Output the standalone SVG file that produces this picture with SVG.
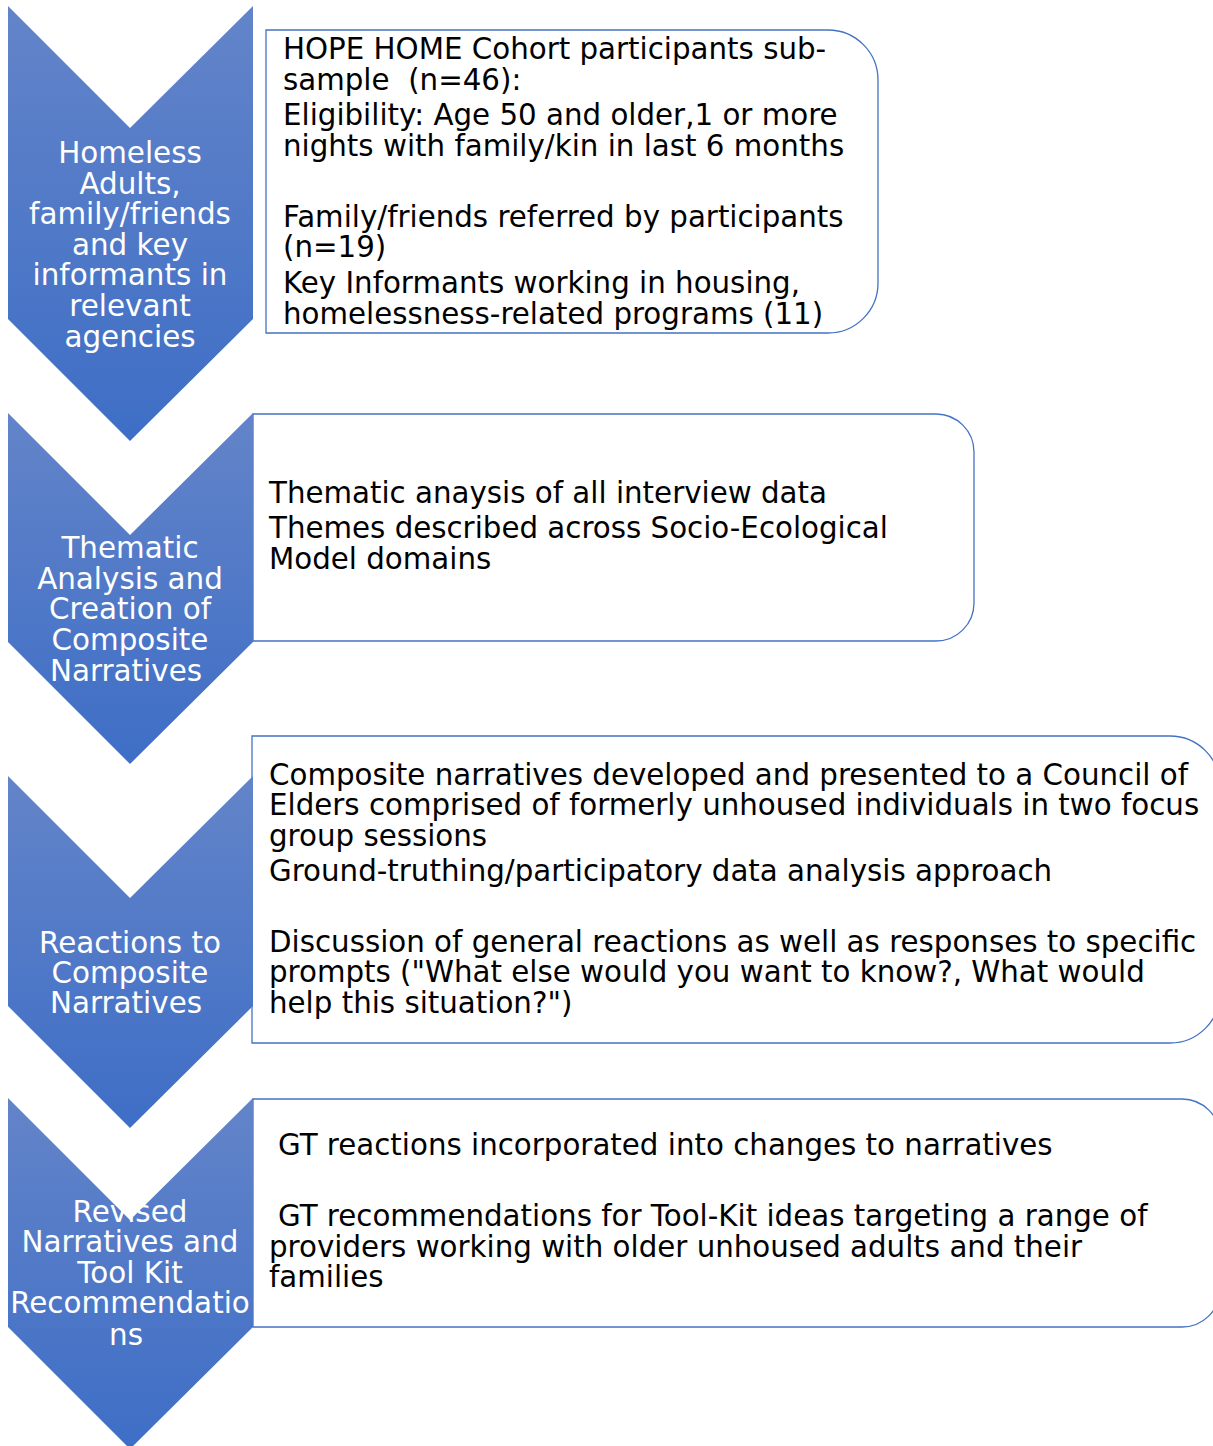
<svg xmlns="http://www.w3.org/2000/svg" width="1213" height="1446" viewBox="0 0 1213 1446">
<defs>
<linearGradient id="chev" x1="0" y1="0" x2="0" y2="1">
<stop offset="0" stop-color="#6384C9"/>
<stop offset="1" stop-color="#3E6EC6"/>
</linearGradient>
<style>
.box{fill:#FFFFFF;stroke:#4472C4;stroke-width:1.3}
.chev{fill:url(#chev)}
.ct{font-family:"DejaVu Sans","Liberation Sans",sans-serif;font-size:29.4px;fill:#FFFFFF;text-anchor:middle}
.bt{font-family:"DejaVu Sans","Liberation Sans",sans-serif;font-size:29.3px;fill:#000000}
</style>
</defs>
<rect width="1213" height="1446" fill="#FFFFFF"/>
<g id="connectors"></g>
<g id="box1">
<path class="box" d="M266,30 H828 A50,50 0 0 1 878,80 V283 A50,50 0 0 1 828,333 H266 Z"/>
<text class="bt"><tspan x="283" y="59">HOPE HOME Cohort participants sub-</tspan><tspan x="283" y="90" xml:space="preserve">sample  (n=46):</tspan><tspan x="283" y="125">Eligibility: Age 50 and older,1 or more</tspan><tspan x="283" y="156">nights with family/kin in last 6 months</tspan><tspan x="283" y="227">Family/friends referred by participants</tspan><tspan x="283" y="257">(n=19)</tspan><tspan x="283" y="293">Key Informants working in housing,</tspan><tspan x="283" y="324">homelessness-related programs (11)</tspan></text>
</g>
<g id="box2">
<path class="box" d="M253,414 H936 A38,38 0 0 1 974,452 V603 A38,38 0 0 1 936,641 H253 Z"/>
<text class="bt"><tspan x="269" y="503">Thematic anaysis of all interview data</tspan><tspan x="269" y="538">Themes described across Socio-Ecological</tspan><tspan x="269" y="569">Model domains</tspan></text>
</g>
<g id="box3">
<path class="box" d="M252,736 H1170 A50,50 0 0 1 1220,786 V993 A50,50 0 0 1 1170,1043 H252 Z"/>
<text class="bt"><tspan x="269" y="785">Composite narratives developed and presented to a Council of</tspan><tspan x="269" y="815">Elders comprised of formerly unhoused individuals in two focus</tspan><tspan x="269" y="846">group sessions</tspan><tspan x="269" y="881">Ground-truthing/participatory data analysis approach</tspan><tspan x="269" y="952">Discussion of general reactions as well as responses to specific</tspan><tspan x="269" y="982">prompts ("What else would you want to know?, What would</tspan><tspan x="269" y="1013">help this situation?")</tspan></text>
</g>
<g id="box4">
<path class="box" d="M253,1099 H1182 A38,38 0 0 1 1220,1137 V1289 A38,38 0 0 1 1182,1327 H253 Z"/>
<text class="bt"><tspan x="278" y="1155">GT reactions incorporated into changes to narratives</tspan><tspan x="278" y="1226">GT recommendations for Tool-Kit ideas targeting a range of</tspan><tspan x="269" y="1257">providers working with older unhoused adults and their</tspan><tspan x="269" y="1287">families</tspan></text>
</g>
<g id="chevron1">
<polygon class="chev" points="8,6 130,128 253,6 253,319 130,441 8,319"/>
<text class="ct"><tspan x="130" y="163">Homeless</tspan><tspan x="130" y="194">Adults,</tspan><tspan x="130" y="224">family/friends</tspan><tspan x="130" y="255">and key</tspan><tspan x="130" y="285">informants in</tspan><tspan x="130" y="316">relevant</tspan><tspan x="130" y="347">agencies</tspan></text>
</g>
<g id="chevron2">
<polygon class="chev" points="8,413 130,535 253,413 253,642 130,764 8,642"/>
<text class="ct"><tspan x="130" y="558">Thematic</tspan><tspan x="130" y="589">Analysis and</tspan><tspan x="130" y="619">Creation of</tspan><tspan x="130" y="650">Composite</tspan><tspan x="126" y="681">Narratives</tspan></text>
</g>
<g id="chevron3">
<polygon class="chev" points="8,776 130,898 253,776 253,1006 130,1128 8,1006"/>
<text class="ct"><tspan x="130" y="953">Reactions to</tspan><tspan x="130" y="983">Composite</tspan><tspan x="126" y="1013">Narratives</tspan></text>
</g>
<g id="chevron4">
<polygon class="chev" points="8,1098 130,1220 253,1098 253,1327 130,1449 8,1327"/>
<text class="ct"><tspan x="130" y="1222">Revised</tspan><tspan x="130" y="1252">Narratives and</tspan><tspan x="130" y="1283">Tool Kit</tspan><tspan x="130" y="1313">Recommendatio</tspan><tspan x="126" y="1345">ns</tspan></text>
</g>
</svg>
